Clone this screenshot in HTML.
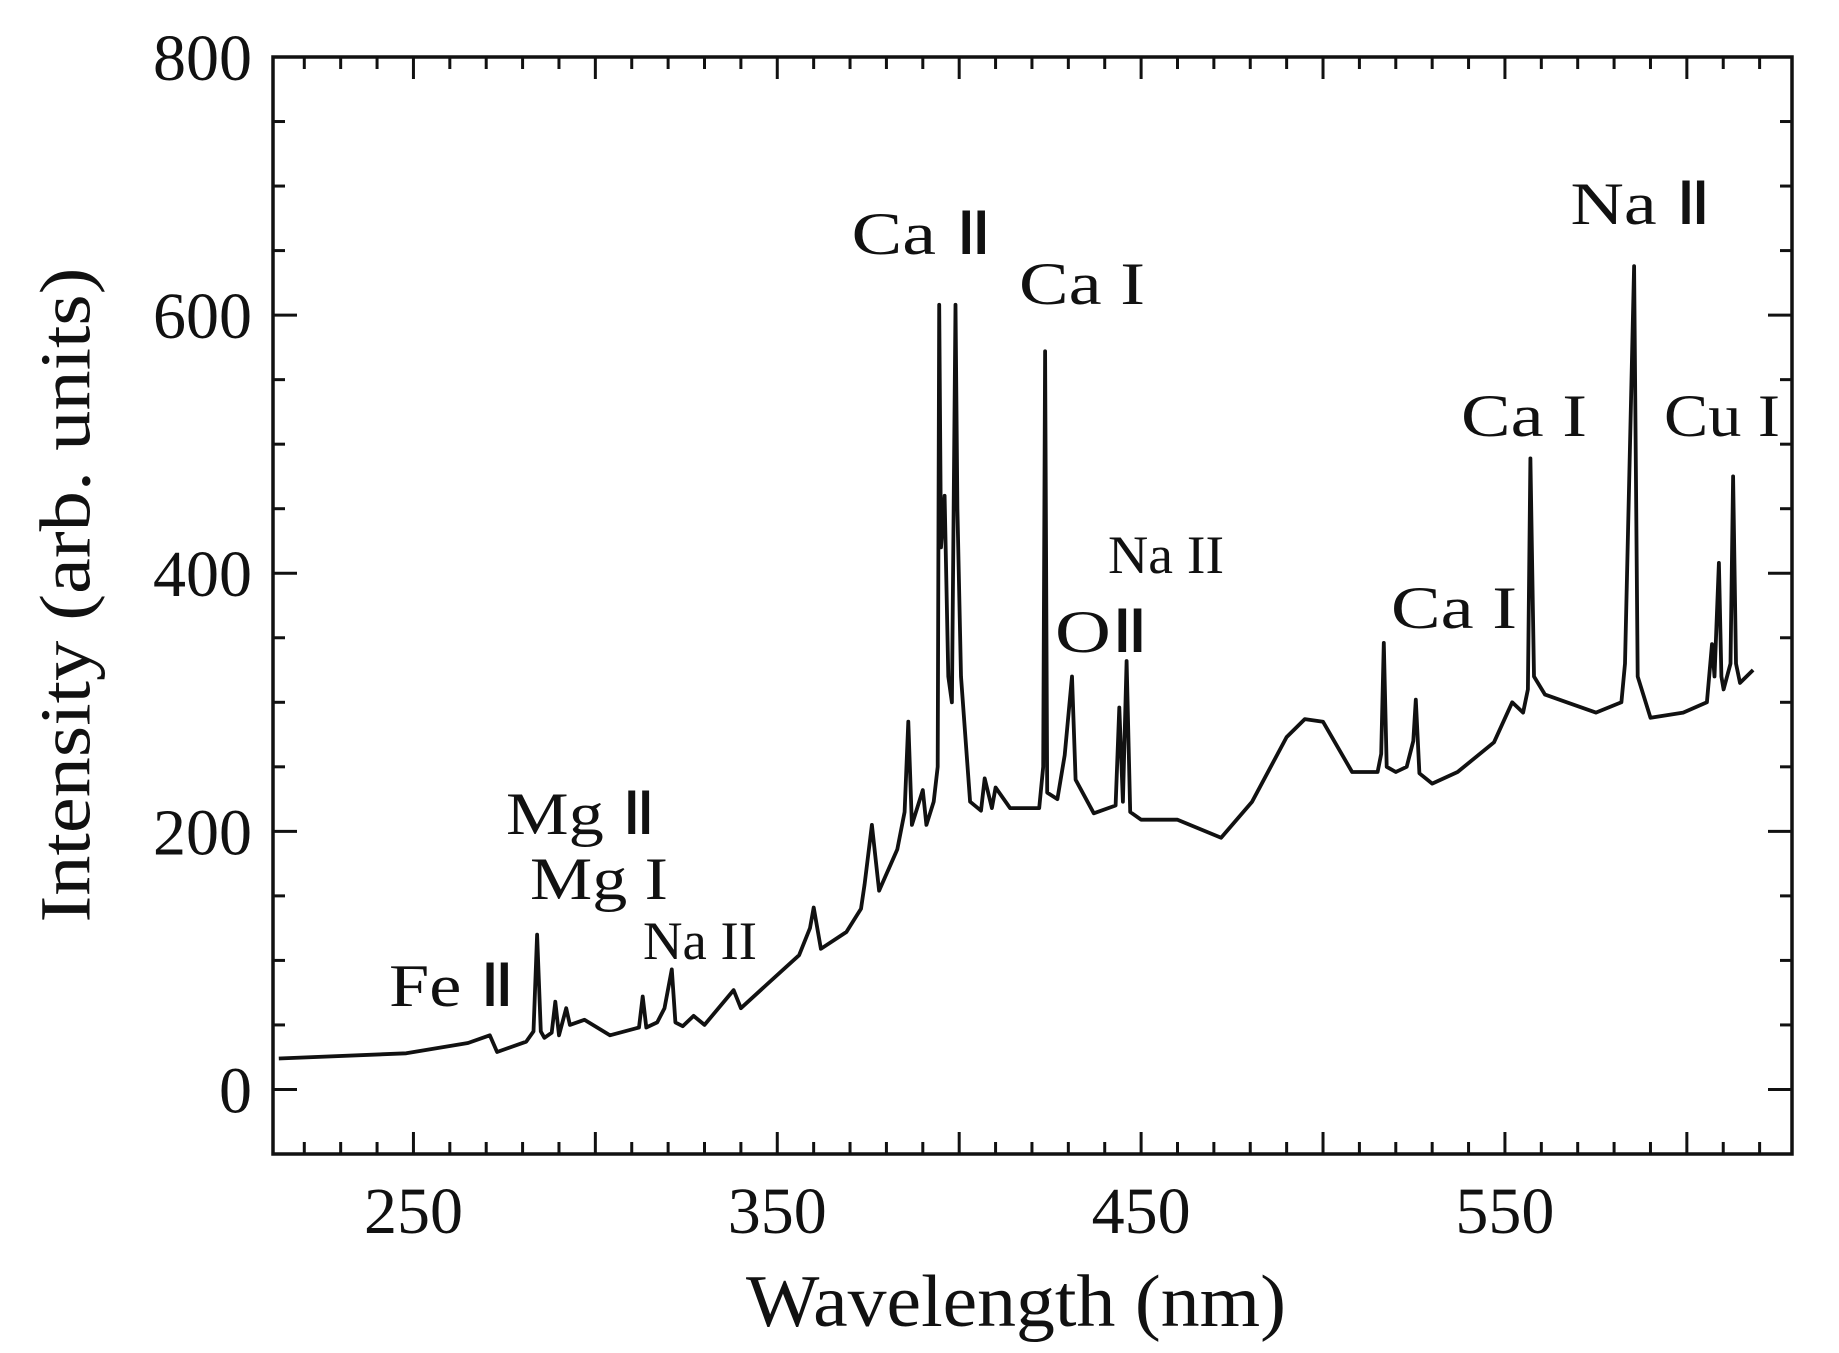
<!DOCTYPE html>
<html><head><meta charset="utf-8"><style>
html,body{margin:0;padding:0;background:#fff;}
svg{display:block;}
text{font-family:"Liberation Serif",serif;fill:#111;}
</style></head><body>
<svg id="chart" width="1839" height="1353" viewBox="0 0 1839 1353">
<g id="axes"></g>
<path id="line" fill="none" stroke="#111" stroke-width="3.8" stroke-linejoin="round"></path>
<g id="labels"></g>
<text x="73" y="595" font-size="72" text-anchor="middle" dominant-baseline="middle" textLength="655" lengthAdjust="spacingAndGlyphs" transform="rotate(-90 73 595)">Intensity (arb. units)</text>
<text x="1016" y="1326" font-size="74" text-anchor="middle" textLength="540" lengthAdjust="spacingAndGlyphs">Wavelength (nm)</text>
</svg>
<script>
const wavelengths = [213,248,265,271,273,281,283,284,285,286,288,289,290,292,293,297,304,312,313,314,317,319,321,322,324,327,330,338,340,347,356,359,360,362,369,373,374,376,378,383,385,386,387,390,391,393,394.1,394.5,395,396,397,398,399,399.5,400.5,403,406,407,409,410,414,422,423.1,423.6,424.2,427,429,431,432,437,443,444,445,446,447,450,460,472,480.5,490,495,500,508,515,516,516.7,517.5,520,523,524.8,525.5,526.5,530,537,547,552,555,556.3,557,558,561,567,575,582,583,585.5,586.5,590,599,605.5,606.9,607.6,608.8,609.5,610.1,612.0,612.7,613.5,614.6,618.2];
const intensities = [24,28,36,42,29,37,45,120,45,40,44,68,42,63,50,54,42,48,72,48,52,63,93,52,49,57,50,77,63,81,104,125,141,109,122,140,159,205,154,186,215,285,205,232,205,223,250,608,420,460,320,300,608,450,320,223,216,241,218,234,218,218,250,572,230,225,259,320,240,214,220,296,223,332,215,209,209,195,223,273,287,285,246,246,260,346,250,246,250,270,302,245,237,246,269,300,292,310,489,320,306,300,292,300,330,638,320,288,292,300,345,320,408,320,310,330,475,330,315,325];
const yTickLabels = ["0","200","400","600","800"];
const xTickLabels = ["250","350","450","550"];
const annLabels = ["Fe \u2161","Mg \u2161","Mg I","Na II","Ca \u2161","Ca I","O\u2161","Na II","Ca I","Ca I","Na \u2161","Cu I"];
const annX = [452,581,599,700,922,1082,1102,1166,1454,1524,1641,1722];
const annY = [985,813,878,940,233,283,631,554,607,415,203,415];
const annW = [126,150,138,114,141,126,94,116,126,126,141,116];
const annSize = [60,60,60,54,60,60,60,54,60,60,60,60];

const L=273,R=1792,T=57,B=1154;
const xMin=211.4,xMax=628.9,yMin=-50,yMax=800;
const X=v=>L+(v-xMin)/(xMax-xMin)*(R-L);
const Y=v=>B-(v-yMin)/(yMax-yMin)*(B-T);
const NS="http://www.w3.org/2000/svg";
const axes=document.getElementById('axes');
function mk(tag,attrs,parent){const e=document.createElementNS(NS,tag);for(const k in attrs)e.setAttribute(k,attrs[k]);parent.appendChild(e);return e;}
const frame=mk('rect',{x:L,y:T,width:R-L,height:B-T,fill:'none',stroke:'#111','stroke-width':3.5},axes);


for(let v=220;v<=620;v+=10){
  const major=v%50===0, len=major?22:12, x=X(v);
  const t1=mk('line',{x1:x,x2:x,y1:B,y2:B-len,stroke:'#111','stroke-width':3},axes);
  
  
  const t2=mk('line',{x1:x,x2:x,y1:T,y2:T+len,stroke:'#111','stroke-width':3},axes);
  
  
}
xTickLabels.forEach(s=>{
  const t=mk('text',{x:X(+s),y:1233,'font-size':66,'text-anchor':'middle'},axes);
  t.textContent=s;
  
  
});
for(let v=0;v<=750;v+=50){
  const major=v%200===0, len=major?24:12, y=Y(v);
  const t1=mk('line',{x1:L,x2:L+len,y1:y,y2:y,stroke:'#111','stroke-width':3},axes);
  
  
  const t2=mk('line',{x1:R,x2:R-len,y1:y,y2:y,stroke:'#111','stroke-width':3},axes);
  
  
}
yTickLabels.forEach(s=>{
  const t=mk('text',{x:252,y:Y(+s)+23,'font-size':66,'text-anchor':'end'},axes);
  t.textContent=s;
  
  
});
let d='';
wavelengths.forEach((w,i)=>{d+=(i?'L':'M')+X(w).toFixed(1)+' '+Y(intensities[i]).toFixed(1);});
document.getElementById('line').setAttribute('d',d);
const lab=document.getElementById('labels');
annLabels.forEach((s,i)=>{
  const t=mk('text',{x:annX[i],y:annY[i]+annSize[i]*0.35,'font-size':annSize[i],'text-anchor':'middle',textLength:annW[i],lengthAdjust:'spacingAndGlyphs'},lab);
  t.textContent=s;
  
  
});
</script>
</body></html>
